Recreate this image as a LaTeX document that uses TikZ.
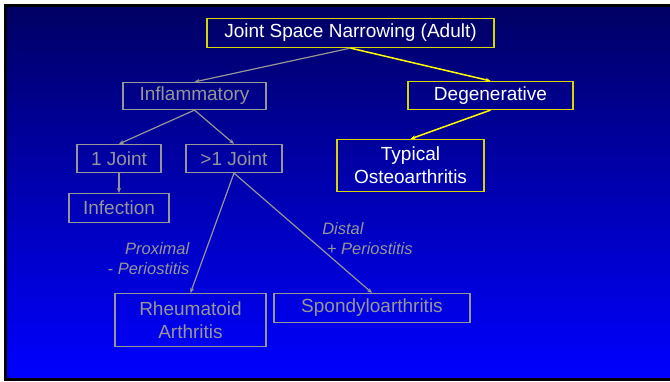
\documentclass[tikz,border=0pt]{standalone}
\usepackage{fontspec}
\setmainfont{Liberation Sans}
\usetikzlibrary{arrows.meta}
\definecolor{boxyellow}{RGB}{215,215,0}
\definecolor{lineyellow}{RGB}{255,255,0}
\definecolor{dimgray}{RGB}{150,150,150}
\definecolor{navytop}{RGB}{0,0,100}
\definecolor{bluebottom}{RGB}{0,0,255}

\begin{document}
\begin{tikzpicture}[x=1pt,y=-1pt,
  box/.style={draw,inner sep=0pt,align=center,line width=1.2pt,font=\fontsize{19}{23}\selectfont},
  hot/.style={box,draw=boxyellow,text=white},
  cold/.style={box,draw=dimgray,text=dimgray},
  arr/.style={-{Stealth[length=5pt,width=4pt]},line width=1.2pt,draw=dimgray},
  hotarr/.style={arr,line width=1.5pt,draw=lineyellow,fill=lineyellow},
  note/.style={inner sep=0pt,font=\fontsize{16.5}{20}\selectfont\itshape,text=dimgray}
]
\useasboundingbox (0,0) rectangle (670,381);
\fill[black] (4,4) rectangle (670,381);
\shade[top color=navytop,bottom color=bluebottom] (7,7) rectangle (670,377);

\node[hot,minimum width=287pt,minimum height=29pt] (jsn) at (350.5,33) {Joint Space Narrowing (Adult)};
\node[cold,minimum width=143pt,minimum height=27pt] (infl) at (194.5,96) {Inflammatory};
\node[hot,minimum width=165pt,minimum height=28pt] (degen) at (490.5,95.5) {Degenerative};
\node[cold,minimum width=84pt,minimum height=28pt] (one) at (119,158.5) {1 Joint};
\node[cold,minimum width=96pt,minimum height=28pt] (many) at (234,158.5) {>1 Joint};
\node[cold,minimum width=100pt,minimum height=29pt] (infect) at (119,208) {Infection};
\node[hot,minimum width=147pt,minimum height=52pt] (oa) at (410.5,165.5) {Typical\\Osteoarthritis};
\node[cold,minimum width=151pt,minimum height=53pt] (ra) at (190.5,320) {Rheumatoid\\Arthritis};
\node[cold,minimum width=196pt,minimum height=29pt] (spa) at (372,308) {Spondyloarthritis};

\node[note,align=right] (prox) at (148.5,258.5) {Proximal\\- Periostitis};
\node[note,align=left] (dist) at (367.5,238.5) {Distal\\\hspace*{0.28em}+ Periostitis};

\draw[arr] (jsn.south) -- (infl.north);
\draw[hotarr] (jsn.south) -- (degen.north);
\draw[arr] (infl.south) -- (one.north);
\draw[arr] (infl.south) -- (many.north);
\draw[arr] (one.south) -- (infect.north);
\draw[arr] (many.south) -- (ra.north);
\draw[arr] (many.south) -- (spa.north);
\draw[hotarr] (degen.south) -- (oa.north);
\end{tikzpicture}
\end{document}
